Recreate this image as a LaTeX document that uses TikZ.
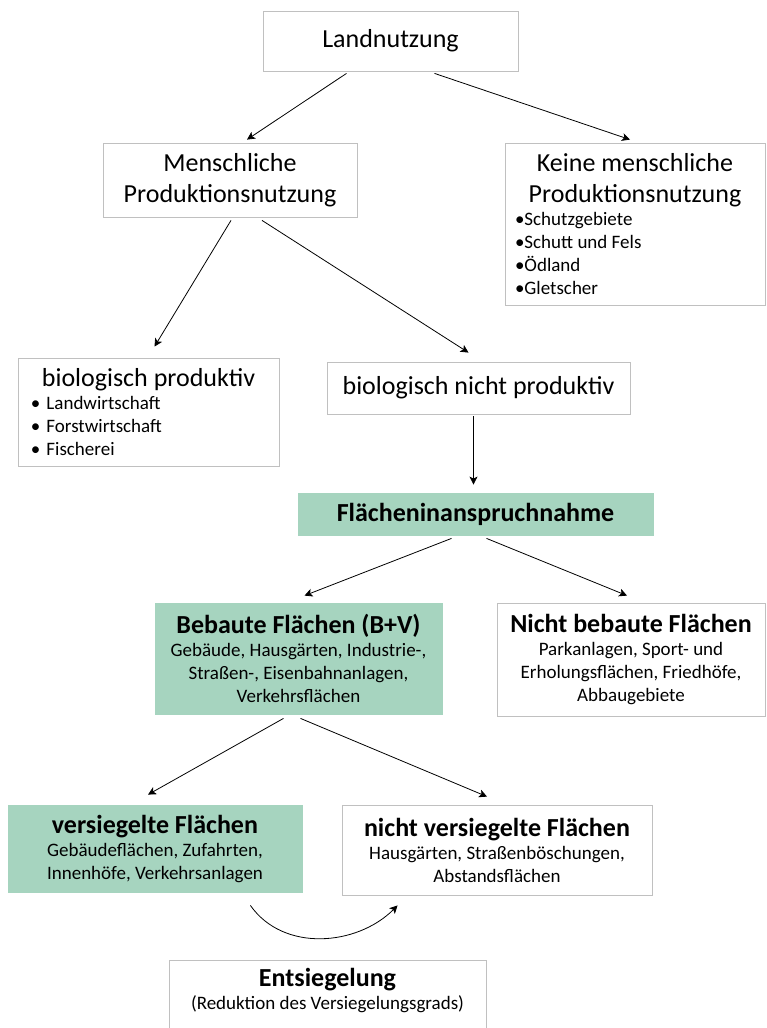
\documentclass[tikz,border=0pt]{standalone}
\usepackage{fontspec}
\setmainfont{Carlito}
\usetikzlibrary{arrows.meta,calc}
\definecolor{flgreen}{RGB}{166,212,191}
\definecolor{boxgray}{RGB}{192,192,192}
\newcommand{\ftitle}{\fontsize{26}{31}\selectfont}
\newcommand{\fhead}{\fontsize{26}{30}\selectfont\bfseries}
\newcommand{\fsmall}{\fontsize{19}{23}\selectfont}
\newcommand{\natsp}{\spaceskip=0pt\xspaceskip=0pt\parindent=0pt}
\newcommand{\bitem}{\hspace*{5pt}•\hspace{6pt}}
\tikzset{box/.style={draw=boxgray, fill=white, align=center, inner sep=4pt, font=\ftitle},
  hl/.style={box, draw=flgreen, fill=flgreen},
  listbox/.style={box, align=left, inner xsep=8pt},
  descbox/.style={font=\fsmall}}
\begin{document}
\begin{tikzpicture}[x=1pt, y=-1pt, >={Stealth[length=8pt,width=8pt,inset=2pt]}, line width=0.8pt]
\useasboundingbox (0,0) rectangle (766,1028); \clip (0,0) rectangle (766,1028);
% obere Ebene
\node[box, minimum width=255pt, minimum height=60pt] (land) at (390.5,41) {Landnutzung};
\node[box, minimum width=254pt, minimum height=74pt] (mensch) at (230,180) {Menschliche\\Produktionsnutzung};
\node[listbox, text width=244pt, minimum height=162pt] (keine) at (635,224) {\natsp\centering Keine menschliche\par Produktionsnutzung\par\raggedright\fsmall\natsp\leftskip=2pt •Schutzgebiete\par •Schutt und Fels\par •Ödland\par •Gletscher\par};
\node[listbox, text width=245pt, minimum height=108pt] (bio) at (148.5,412) {\natsp\centering biologisch produktiv\par\raggedright\fsmall\natsp \bitem Landwirtschaft\par \bitem Forstwirtschaft\par \bitem Fischerei\par};
\node[box, minimum width=303pt, minimum height=52pt] (nonbio) at (478.5,388) {biologisch nicht produktiv};
% Flaechen
\node[hl, minimum width=355pt, minimum height=42pt, font=\fhead] (flaech) at (475.5,514) {Flächeninanspruchnahme};
\node[hl, descbox, minimum width=287pt, minimum height=111pt] (bebaut) at (298.5,658.5) {{\fhead Bebaute Flächen (B+V)}\\[0pt] Gebäude, Hausgärten, Industrie-,\\Straßen-, Eisenbahnanlagen,\\Verkehrsflächen};
\node[box, descbox, minimum width=268pt, minimum height=113pt] (nbebaut) at (631,659.5) {{\fhead Nicht bebaute Flächen}\\[0pt] Parkanlagen, Sport- und\\Erholungsflächen, Friedhöfe,\\Abbaugebiete};
\node[hl, descbox, minimum width=294pt, minimum height=87pt] (versieg) at (155,848.5) {{\fhead versiegelte Flächen}\\[0pt] Gebäudeflächen, Zufahrten,\\Innenhöfe, Verkehrsanlagen};
\node[box, descbox, minimum width=310pt, minimum height=90pt] (nvers) at (497,850) {{\fhead nicht versiegelte Flächen}\\[0pt] Hausgärten, Straßenböschungen,\\Abstandsflächen};
\node[box, descbox, anchor=north, minimum width=317pt, text depth=40pt, inner ysep=8pt] (ents) at (327.5,960) {{\fhead Entsiegelung}\\[0pt] (Reduktion des Versiegelungsgrads)};
% Pfeile
\draw[->] ($(land.south)+(-44,2)$) -- ($(mensch.north)+(17,-3)$); \draw[->] ($(land.south)+(44,2)$) -- ($(keine.north)+(-5,-3)$);
\draw[->] ($(mensch.south)+(1,3)$) -- ($(bio.north)+(6,-11)$); \draw[->] ($(mensch.south)+(32,3)$) -- ($(nonbio.north)+(-10,-9)$);
\draw[->] ($(nonbio.south)+(-5,2)$) -- ($(flaech.north)+(-2,-8)$);
\draw[->] ($(flaech.south)+(-24,3)$) -- ($(bebaut.north)+(6,-7)$); \draw[->] ($(flaech.south)+(11,3)$) -- ($(nbebaut.north)+(-4,-7)$);
\draw[->] ($(bebaut.south)+(-15,4)$) -- ($(versieg.north)+(-7,-10)$); \draw[->] ($(bebaut.south)+(2,4)$) -- ($(nvers.north)+(-10,-8)$);
\draw[->] ($(versieg.south east)+(-52,13)$) to[out=-55, in=-135] ($(nvers.south west)+(56,10)$);
\end{tikzpicture}
\end{document}
